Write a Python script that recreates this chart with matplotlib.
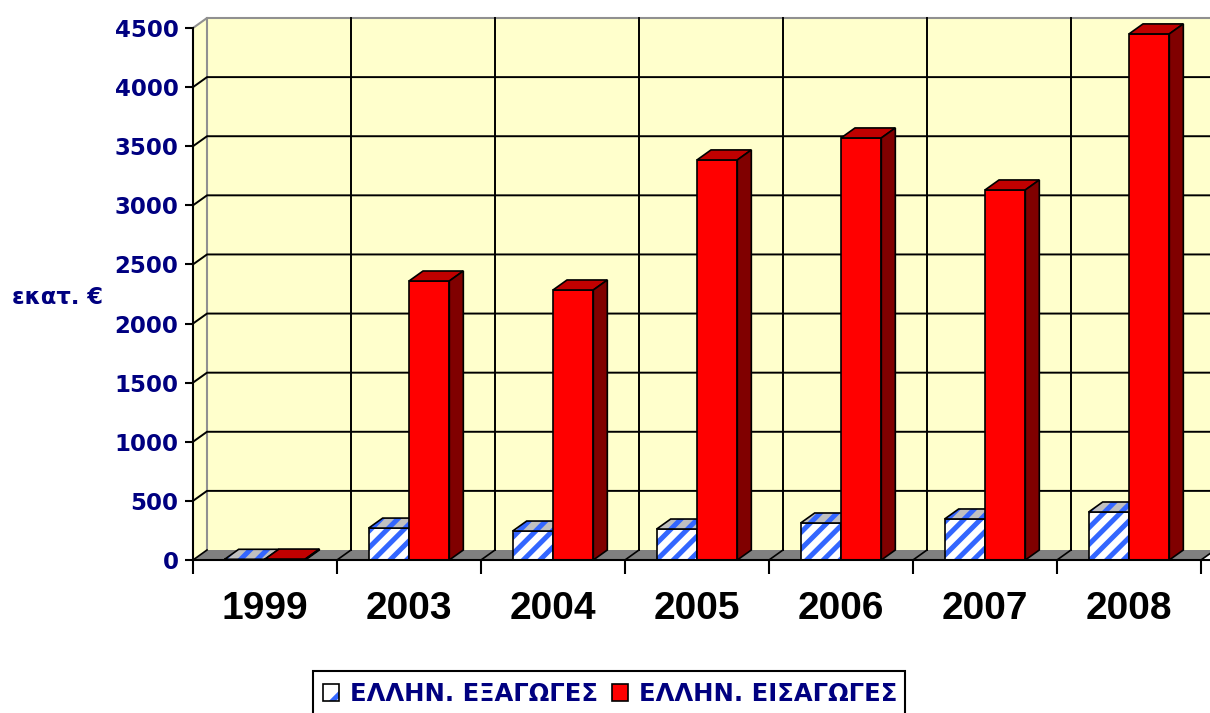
import numpy as np
import matplotlib
matplotlib.use("Agg")
import matplotlib.pyplot as plt
from matplotlib.patches import Polygon, Patch, Rectangle

years = ["1999", "2003", "2004", "2005", "2006", "2007", "2008"]
exports = [6, 270, 245, 262, 313, 347, 406]
imports = [8, 2360, 2284, 3384, 3570, 3130, 4450]
yticks = list(range(0, 4501, 500))
ylabel = "εκατ. €"
series_names = ["ΕΛΛΗΝ. ΕΞΑΓΩΓΕΣ", "ΕΛΛΗΝ. ΕΙΣΑΓΩΓΕΣ"]

W, H = 1210, 713
NAVY = "#000080"
WALL = "#FFFFCC"
FLOOR = "#808080"
BLUE = "#3366FF"
plt.rcParams["hatch.linewidth"] = 3.6

fig = plt.figure(figsize=(W / 100, H / 100), dpi=100)
px_cat = 144.0
px_val = 532.0 / 4500
ax = fig.add_axes([193 / W, 153 / H, (W - 193) / W, 550 / H])
ax.set_xlim(0, (W - 193) / px_cat)
ax.set_ylim(0, 550 / px_val)
ax.patch.set_visible(False)

# depth offset of the 3d box
dx = 14 / px_cat
dy = 10 / px_val
n = len(years)
top = yticks[-1]

# walls and floor
ax.add_patch(Polygon([(0, 0), (dx, dy), (dx, top + dy), (0, top)],
                     facecolor=WALL, edgecolor="none", zorder=0))
ax.add_patch(Polygon([(dx, dy), (n + dx, dy), (n + dx, top + dy), (dx, top + dy)],
                     facecolor=WALL, edgecolor="none", zorder=0))
ax.add_patch(Polygon([(0, 0), (n, 0), (n + dx, dy), (dx, dy)],
                     facecolor=FLOOR, edgecolor="none", zorder=1))
ax.plot([dx, dx], [dy, top + dy], color="#909090", lw=1.5, zorder=1)
ax.plot([0, dx, n + dx], [top, top + dy, top + dy], color="#909090", lw=1.5, zorder=1)

# gridlines
for v in yticks[1:-1]:
    ax.plot([0, dx, n + dx], [v, v + dy, v + dy], color="black", lw=1.4, zorder=1)
for k in range(1, n + 1):
    ax.plot([k + dx, k + dx], [dy, top + dy], color="black", lw=1.4, zorder=1)
for k in range(0, n + 1):
    ax.plot([k, k + dx], [0, dy], color="black", lw=1.2, zorder=2)

# bars
x = np.arange(n)
bw = 0.28
xe = x + 0.5 - bw
xi = x + 0.5
ax.bar(xe, exports, width=bw, align="edge", color="white", edgecolor=BLUE,
       hatch="//", linewidth=0, zorder=3)
ax.bar(xe, exports, width=bw, align="edge", fill=False, edgecolor="black",
       linewidth=1.2, zorder=3)
for x0, v in zip(xe, exports):
    pts = [(x0, v), (x0 + bw, v), (x0 + bw + dx, v + dy), (x0 + dx, v + dy)]
    ax.add_patch(Polygon(pts, facecolor="#C0C0C0", edgecolor=BLUE, hatch="//",
                         lw=0, zorder=3))
    ax.add_patch(Polygon(pts, fill=False, edgecolor="black", lw=1.2, zorder=3))

ax.bar(xi, imports, width=bw, align="edge", color="#FF0000", edgecolor="black",
       linewidth=1.2, zorder=4)
for x0, v in zip(xi, imports):
    ax.add_patch(Polygon([(x0, v), (x0 + bw, v), (x0 + bw + dx, v + dy), (x0 + dx, v + dy)],
                         facecolor="#C00000", edgecolor="black", lw=1.2, zorder=4))
    ax.add_patch(Polygon([(x0 + bw, 0), (x0 + bw + dx, dy), (x0 + bw + dx, v + dy), (x0 + bw, v)],
                         facecolor="#800000", edgecolor="black", lw=1.2, zorder=4))

# axes
for s in ["top", "right"]:
    ax.spines[s].set_visible(False)
ax.spines["left"].set_bounds(0, top)
ax.spines["left"].set_linewidth(1.5)
ax.spines["bottom"].set_linewidth(1.5)
ax.spines["bottom"].set_zorder(5)
ax.set_yticks(yticks)
ax.set_yticklabels([str(v) for v in yticks], color=NAVY, fontsize=16.5,
                   fontweight="bold", family="DejaVu Sans")
ax.tick_params(axis="y", length=6, width=1.5, pad=4.5)
ax.set_xticks(np.arange(n + 1))
ax.set_xticklabels([])
ax.tick_params(axis="x", which="major", length=10, width=1.5)
ax.set_xticks(x + 0.5, minor=True)
ax.set_xticklabels(years, minor=True, fontsize=28, fontweight="bold",
                   family="Liberation Sans")
ax.tick_params(axis="x", which="minor", length=0, pad=22)

fig.text(12 / W, 1 - 297 / H, ylabel, color=NAVY, fontsize=16.3, fontweight="bold",
         family="DejaVu Sans", ha="left", va="center")

# legend
h1 = (Patch(facecolor="white", edgecolor=BLUE, hatch="/", lw=0),
      Patch(fill=False, edgecolor="black", lw=1.2))
h2 = Patch(facecolor="#FF0000", edgecolor="black", lw=1.2)
leg = fig.legend([h1, h2], series_names, loc="center left",
                 bbox_to_anchor=(311 / W, 1 - 694 / H), ncol=2, frameon=False,
                 handlelength=0.65, handleheight=0.65, handletextpad=0.45,
                 columnspacing=0.58, borderpad=0,
                 prop={"family": "DejaVu Sans", "weight": "bold", "size": 17.5})
for t in leg.get_texts():
    t.set_color(NAVY)
fig.add_artist(Rectangle((313 / W, -0.05), (905 - 313) / W, 0.05 + (713 - 671) / H,
                         transform=fig.transFigure, fill=False, edgecolor="black", lw=1.5))

fig.savefig("out.png", dpi=100)
